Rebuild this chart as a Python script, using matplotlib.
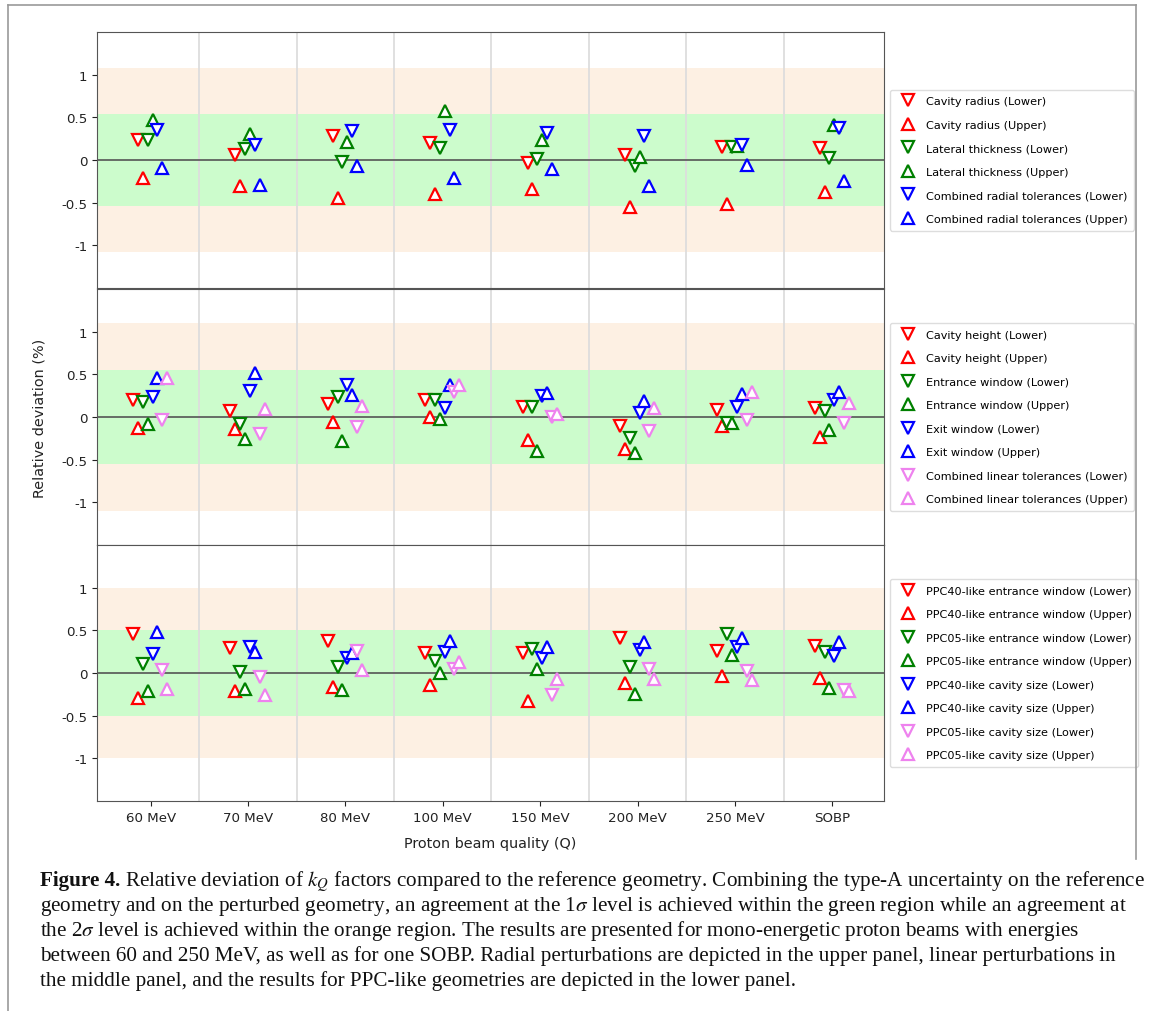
import numpy as np
import matplotlib
matplotlib.use("Agg")
import matplotlib.pyplot as plt
from matplotlib.lines import Line2D

plt.rcParams["mathtext.fontset"] = "stix"

categories = ["60 MeV", "70 MeV", "80 MeV", "100 MeV", "150 MeV", "200 MeV", "250 MeV", "SOBP"]

# upper panel: radial perturbations
cavity_radius_lower = [0.23, 0.055, 0.28, 0.20, -0.035, 0.06, 0.15, 0.145]
cavity_radius_upper = [-0.21, -0.31, -0.45, -0.40, -0.34, -0.55, -0.52, -0.38]
lateral_thickness_lower = [0.23, 0.13, -0.02, 0.145, 0.01, -0.07, 0.15, 0.02]
lateral_thickness_upper = [0.47, 0.31, 0.21, 0.57, 0.24, 0.04, 0.16, 0.41]
radial_combined_lower = [0.35, 0.17, 0.34, 0.35, 0.32, 0.28, 0.18, 0.37]
radial_combined_upper = [-0.09, -0.29, -0.07, -0.21, -0.10, -0.30, -0.055, -0.25]

# middle panel: linear perturbations
cavity_height_lower = [0.20, 0.066, 0.15, 0.20, 0.12, -0.10, 0.08, 0.105]
cavity_height_upper = [-0.13, -0.135, -0.06, 0.0, -0.27, -0.38, -0.105, -0.23]
entrance_window_lower = [0.18, -0.08, 0.23, 0.20, 0.12, -0.245, -0.07, 0.07]
entrance_window_upper = [-0.08, -0.26, -0.28, -0.02, -0.40, -0.42, -0.07, -0.15]
exit_window_lower = [0.24, 0.30, 0.38, 0.10, 0.25, 0.05, 0.12, 0.20]
exit_window_upper = [0.46, 0.52, 0.26, 0.37, 0.28, 0.19, 0.27, 0.29]
linear_combined_lower = [-0.04, -0.20, -0.12, 0.29, 0.0, -0.16, -0.04, -0.07]
linear_combined_upper = [0.46, 0.09, 0.13, 0.37, 0.03, 0.11, 0.29, 0.16]

# lower panel: PPC-like geometries
ppc40_entrance_lower = [0.46, 0.29, 0.38, 0.23, 0.23, 0.41, 0.26, 0.32]
ppc40_entrance_upper = [-0.29, -0.21, -0.16, -0.145, -0.33, -0.12, -0.04, -0.06]
ppc05_entrance_lower = [0.10, 0.01, 0.07, 0.145, 0.28, 0.07, 0.46, 0.25]
ppc05_entrance_upper = [-0.21, -0.19, -0.20, 0.0, 0.05, -0.245, 0.21, -0.175]
ppc40_cavity_lower = [0.22, 0.31, 0.175, 0.25, 0.17, 0.275, 0.30, 0.20]
ppc40_cavity_upper = [0.48, 0.245, 0.23, 0.38, 0.30, 0.36, 0.41, 0.36]
ppc05_cavity_lower = [0.03, -0.05, 0.26, 0.05, -0.26, 0.05, 0.02, -0.195]
ppc05_cavity_upper = [-0.19, -0.26, 0.03, 0.13, -0.07, -0.07, -0.085, -0.21]

panels = [
    ([("Cavity radius", cavity_radius_lower, cavity_radius_upper, "red"),
      ("Lateral thickness", lateral_thickness_lower, lateral_thickness_upper, "green"),
      ("Combined radial tolerances", radial_combined_lower, radial_combined_upper, "blue")],
     0.54, 1.08),
    ([("Cavity height", cavity_height_lower, cavity_height_upper, "red"),
      ("Entrance window", entrance_window_lower, entrance_window_upper, "green"),
      ("Exit window", exit_window_lower, exit_window_upper, "blue"),
      ("Combined linear tolerances", linear_combined_lower, linear_combined_upper, "violet")],
     0.55, 1.1),
    ([("PPC40-like entrance window", ppc40_entrance_lower, ppc40_entrance_upper, "red"),
      ("PPC05-like entrance window", ppc05_entrance_lower, ppc05_entrance_upper, "green"),
      ("PPC40-like cavity size", ppc40_cavity_lower, ppc40_cavity_upper, "blue"),
      ("PPC05-like cavity size", ppc05_cavity_lower, ppc05_cavity_upper, "violet")],
     0.5, 1.0),
]

W, H = 1167, 1012
fig = plt.figure(figsize=(W / 100, H / 100), dpi=100)

x = np.arange(len(categories))
left, right = 97 / W, 884 / W
tops = [33, 290, 546]
axes = []
for k, (series, g, o) in enumerate(panels):
    bottom = 1 - (tops[k] + 256) / H
    ax = fig.add_axes([left, bottom, right - left, 256 / H],
                      sharex=axes[0] if axes else None)
    axes.append(ax)
    ax.axhspan(-o, o, color="#FDF0E3", lw=0, zorder=0)
    ax.axhspan(-g, g, color="#CCFCCC", lw=0, zorder=0.5)
    for b in np.arange(0.5, len(categories) - 1, 1):
        ax.axvline(b, color="#dddddd", lw=1.3, zorder=1)
    ax.axhline(0, color="#555555", lw=1.2, zorder=1)
    n = 2 * len(series)
    i = 0
    for name, lo, up, c in series:
        for vals, m, tag in [(lo, "v", "Lower"), (up, "^", "Upper")]:
            off = (i - n / 2) * 0.05 + 0.02
            ax.plot(x + off, vals, ls="none", marker=m, ms=8.5, mew=1.6,
                    mec=c, mfc="white", label=f"{name} ({tag})", zorder=3)
            i += 1
    ax.set_ylim(-1.5, 1.5)
    ax.set_yticks([-1, -0.5, 0, 0.5, 1])
    ax.set_yticklabels(["-1", "-0.5", "0", "0.5", "1"])
    ax.tick_params(labelsize=9.6, colors="#222222")
    for s in ax.spines.values():
        s.set_color("#555555")
    ax.legend(loc="center left", bbox_to_anchor=(1.0, 0.5), fontsize=8.1,
              labelspacing=1.2, handletextpad=0.6, borderpad=0.6,
              edgecolor="#dddddd", framealpha=1)

axes[0].set_xlim(-0.55, 7.53)
for ax in axes[:-1]:
    ax.tick_params(axis="x", which="both", bottom=False, labelbottom=False)
axes[-1].set_xticks(x)
axes[-1].set_xticklabels(categories)
axes[-1].set_xlabel("Proton beam quality (Q)", fontsize=10.4, color="#222222",
                    labelpad=9)
fig.text(40 / W, 1 - 418 / H, "Relative deviation (%)", rotation=90,
         ha="center", va="center", fontsize=10.4, color="#222222")

# page frame
fc = "#999999"
fig.add_artist(Line2D([8 / W, 8 / W], [0, 1 - 6 / H], color=fc, lw=1.2))
fig.add_artist(Line2D([8 / W, 1136 / W], [1 - 6 / H, 1 - 6 / H], color=fc, lw=1.2))
fig.add_artist(Line2D([1136 / W, 1136 / W], [1 - 6 / H, 1 - 860 / H], color=fc, lw=1.2))

# caption
cap_font = dict(family="Liberation Serif", fontsize=15.2, color="#111111", va="baseline")
lines = [
    r"Relative deviation of $k_Q$ factors compared to the reference geometry. Combining the type-A uncertainty on the reference",
    r"geometry and on the perturbed geometry, an agreement at the 1$\sigma$ level is achieved within the green region while an agreement at",
    r"the 2$\sigma$ level is achieved within the orange region. The results are presented for mono-energetic proton beams with energies",
    r"between 60 and 250 MeV, as well as for one SOBP. Radial perturbations are depicted in the upper panel, linear perturbations in",
    r"the middle panel, and the results for PPC-like geometries are depicted in the lower panel.",
]
renderer = fig.canvas.get_renderer()
x0 = 40 / W
base = [886, 911, 936, 961, 986]
t = fig.text(x0, 1 - base[0] / H, "Figure 4.", fontweight="bold", **cap_font)
wb = t.get_window_extent(renderer).width
fig.text(x0 + (wb + 5) / W, 1 - base[0] / H, lines[0], **cap_font)
for yb, line in zip(base[1:], lines[1:]):
    fig.text(x0, 1 - yb / H, line, **cap_font)

fig.savefig("out.png", dpi=100)
